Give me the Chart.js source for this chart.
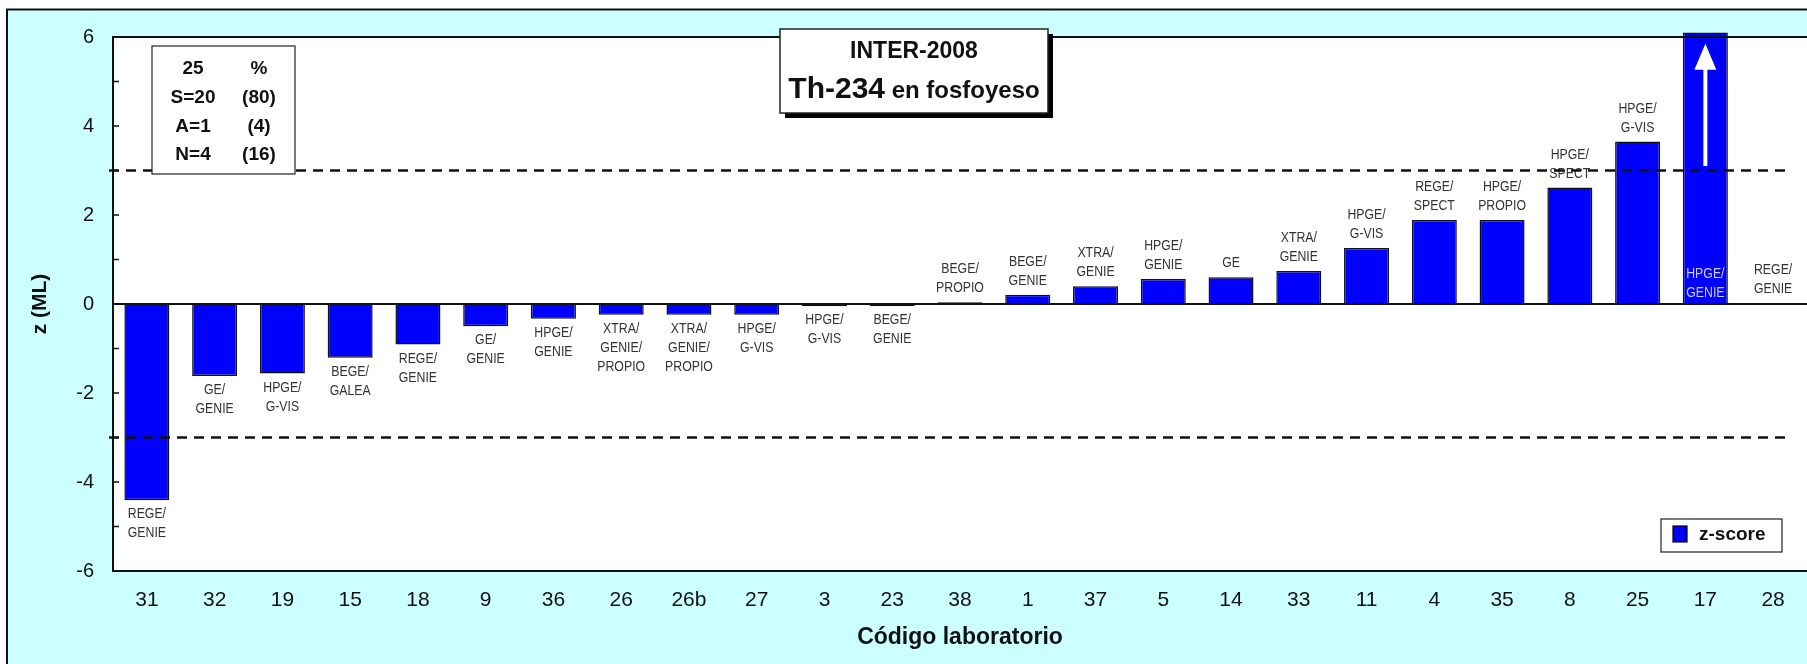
<!DOCTYPE html>
<html>
<head>
<meta charset="utf-8">
<title>INTER-2008 Th-234 en fosfoyeso</title>
<script src="https://cdn.jsdelivr.net/npm/chart.js@4.4.0/dist/chart.umd.min.js"></script>
<style>
  html, body { margin: 0; padding: 0; background: #fff; overflow: hidden; }
  #wrap { width: 1807px; height: 664px; }
</style>
</head>
<body>
<div id="wrap"><canvas id="zscore" width="1807" height="664"></canvas></div>
<script>
// lab codes, z-scores (ML) and measuring method of each lab
var labCodes = ['31', '32', '19', '15', '18', '9', '36', '26', '26b', '27', '3', '23', '38',
                '1', '37', '5', '14', '33', '11', '4', '35', '8', '25', '17', '28'];
var zScores = [-4.41, -1.62, -1.56, -1.21, -0.91, -0.50, -0.33, -0.24, -0.24, -0.24, -0.05, -0.05, 0.04,
               0.21, 0.40, 0.56, 0.60, 0.74, 1.26, 1.89, 1.89, 2.62, 3.65, 6.1, null];
var methods = ['REGE/GENIE', 'GE/GENIE', 'HPGE/G-VIS', 'BEGE/GALEA', 'REGE/GENIE', 'GE/GENIE', 'HPGE/GENIE',
               'XTRA/GENIE/PROPIO', 'XTRA/GENIE/PROPIO', 'HPGE/G-VIS', 'HPGE/G-VIS', 'BEGE/GENIE', 'BEGE/PROPIO',
               'BEGE/GENIE', 'XTRA/GENIE', 'HPGE/GENIE', 'GE', 'XTRA/GENIE', 'HPGE/G-VIS', 'REGE/SPECT',
               'HPGE/PROPIO', 'HPGE/SPECT', 'HPGE/G-VIS', 'HPGE/GENIE', 'REGE/GENIE'];
var limitLines = [3, -3];
var yMin = -6, yMax = 6;
var summaryRows = [['25', '%'], ['S=20', '(80)'], ['A=1', '(4)'], ['N=4', '(16)']];
var arrowFrom = 3.1, arrowTo = 5.85;   // off-scale arrow in bar 17

var ARIAL = "'Liberation Sans', Arial, sans-serif";

function splitMethod(s) {
  var parts = s.split('/');
  return parts.map(function (p, i) { return i < parts.length - 1 ? p + '/' : p; });
}

// Arial Narrow look-alike: squeeze Liberation Sans horizontally
function narrowText(c, txt, x, y) {
  c.save();
  c.translate(x, y);
  c.scale(0.82, 1);
  c.fillText(txt, 0, 0);
  c.restore();
}

var framePlugin = {
  id: 'frame',
  beforeDraw: function (chart) {
    var c = chart.ctx, a = chart.chartArea;
    c.save();
    c.fillStyle = '#fff';
    c.fillRect(0, 0, chart.width, chart.height);
    c.fillStyle = '#CCFFFF';
    c.fillRect(7, 9, chart.width, chart.height);
    c.strokeStyle = '#111';
    c.lineWidth = 2;
    c.beginPath();
    c.moveTo(7, chart.height + 2); c.lineTo(7, 9.5); c.lineTo(chart.width + 2, 9.5);
    c.stroke();
    c.fillStyle = '#fff';
    c.fillRect(a.left, a.top, a.right - a.left, a.bottom - a.top);
    c.restore();
  }
};

var overlayPlugin = {
  id: 'overlay',
  afterDatasetsDraw: function (chart) {
    var c = chart.ctx, a = chart.chartArea;
    var xs = chart.scales.x, ys = chart.scales.y;
    var meta = chart.getDatasetMeta(0);
    c.save();

    // zero line and plot border
    c.strokeStyle = '#111';
    c.lineWidth = 2;
    c.beginPath();
    c.moveTo(a.left, ys.getPixelForValue(0)); c.lineTo(a.right, ys.getPixelForValue(0));
    c.moveTo(a.right + 2, a.top); c.lineTo(a.left, a.top); c.lineTo(a.left, a.bottom); c.lineTo(a.right + 2, a.bottom);
    c.stroke();

    // inward tick marks on the y axis
    c.lineWidth = 1.5;
    c.beginPath();
    ys.ticks.forEach(function (t) {
      var py = ys.getPixelForValue(t.value);
      c.moveTo(a.left, py); c.lineTo(a.left + 6, py);
    });
    c.stroke();

    // method labels
    c.font = '15px ' + ARIAL;
    c.textAlign = 'center';
    c.textBaseline = 'middle';
    var lh = 19;
    zScores.forEach(function (v, i) {
      var lines = splitMethod(methods[i]);
      var px = xs.getPixelForValue(i);
      var y0 = ys.getPixelForValue(0);
      var j;
      if (v === null) {
        c.fillStyle = '#333';
        for (j = 0; j < lines.length; j++) narrowText(c, lines[j], px, y0 - 15 - (lines.length - 1 - j) * lh);
      } else if (v > yMax) {
        c.fillStyle = '#ccccff';
        for (j = 0; j < lines.length; j++) narrowText(c, lines[j], px, y0 - 11 - (lines.length - 1 - j) * lh);
      } else if (v >= 0) {
        var top = meta.data[i].y;
        c.fillStyle = '#333';
        for (j = 0; j < lines.length; j++) narrowText(c, lines[j], px, top - 14 - (lines.length - 1 - j) * lh);
      } else {
        var bot = meta.data[i].y;
        c.fillStyle = '#333';
        for (j = 0; j < lines.length; j++) narrowText(c, lines[j], px, bot + 14 + j * lh);
      }
    });

    // +-3 limit lines
    c.strokeStyle = '#111';
    c.lineWidth = 2.5;
    c.setLineDash([10, 7]);
    limitLines.forEach(function (v) {
      var py = ys.getPixelForValue(v);
      c.beginPath();
      c.moveTo(a.left - 4, py); c.lineTo(a.right - 15, py);
      c.stroke();
    });
    c.setLineDash([]);

    // white arrow on the off-scale bar
    zScores.forEach(function (v, i) {
      if (v === null || v <= yMax) return;
      var px = xs.getPixelForValue(i);
      var yb = ys.getPixelForValue(arrowFrom), yt = ys.getPixelForValue(arrowTo);
      c.fillStyle = '#fff';
      c.fillRect(px - 2, yt + 24, 4, yb - yt - 24);
      c.beginPath();
      c.moveTo(px, yt); c.lineTo(px - 11, yt + 26); c.lineTo(px + 11, yt + 26); c.closePath();
      c.fill();
    });

    // summary box
    c.fillStyle = '#fff';
    c.fillRect(152, 46, 143, 128);
    c.strokeStyle = '#222';
    c.lineWidth = 1.2;
    c.strokeRect(152, 46, 143, 128);
    c.fillStyle = '#111';
    c.font = 'bold 19px ' + ARIAL;
    summaryRows.forEach(function (r, k) {
      c.fillText(r[0], 193, 69 + k * 28.7);
      c.fillText(r[1], 259, 69 + k * 28.7);
    });

    // title box with shadow
    c.fillStyle = '#000';
    c.fillRect(785, 34, 268, 84);
    c.fillStyle = '#fff';
    c.fillRect(780, 29, 268, 84);
    c.strokeStyle = '#222';
    c.lineWidth = 1.5;
    c.strokeRect(780, 29, 268, 84);
    c.fillStyle = '#111';
    c.font = 'bold 23px ' + ARIAL;
    c.fillText('INTER-2008', 914, 52);
    c.textAlign = 'left';
    c.font = 'bold 30px ' + ARIAL;
    var w1 = c.measureText('Th-234').width;
    c.font = 'bold 24px ' + ARIAL;
    var w2 = c.measureText(' en fosfoyeso').width;
    var sx = 914 - (w1 + w2) / 2;
    c.textBaseline = 'alphabetic';
    c.font = 'bold 30px ' + ARIAL;
    c.fillText('Th-234', sx, 98);
    c.font = 'bold 24px ' + ARIAL;
    c.fillText(' en fosfoyeso', sx + w1, 98);

    // legend
    c.fillStyle = '#fff';
    c.fillRect(1661, 519, 121, 33);
    c.strokeStyle = '#222';
    c.lineWidth = 1.2;
    c.strokeRect(1661, 519, 121, 33);
    c.fillStyle = '#0000FF';
    c.fillRect(1673, 526, 14, 16);
    c.strokeStyle = '#000';
    c.strokeRect(1673, 526, 14, 16);
    c.fillStyle = '#111';
    c.textBaseline = 'middle';
    c.font = 'bold 19px ' + ARIAL;
    c.fillText('z-score', 1699, 535);

    c.restore();
  }
};

var ctx = document.getElementById('zscore').getContext('2d');
var zChart = new Chart(ctx, {
  type: 'bar',
  data: {
    labels: labCodes,
    datasets: [{
      label: 'z-score',
      data: zScores,
      backgroundColor: '#0000FF',
      borderColor: '#111',
      borderWidth: 1.5,
      barPercentage: 0.664,
      categoryPercentage: 1,
      clip: false
    }]
  },
  options: {
    responsive: false,
    animation: false,
    devicePixelRatio: 1,
    layout: { padding: { top: 37, right: 0, bottom: 0, left: 0 } },
    plugins: {
      legend: { display: false },
      tooltip: { enabled: false }
    },
    scales: {
      x: {
        grid: { display: false, drawTicks: false },
        border: { display: false },
        ticks: { color: '#111', font: { family: ARIAL, size: 21 }, padding: 17, maxRotation: 0, autoSkip: false },
        title: {
          display: true,
          text: 'Código laboratorio',
          color: '#111',
          font: { family: ARIAL, size: 23, weight: 'bold' },
          padding: { top: 0, bottom: 13 }
        },
        afterFit: function (s) { s.height = 93; }
      },
      y: {
        min: yMin,
        max: yMax,
        grid: { display: false, drawTicks: false },
        border: { display: false },
        ticks: {
          stepSize: 1,
          autoSkip: false,
          color: '#111',
          padding: 19,
          font: { family: ARIAL, size: 20 },
          callback: function (v) { return v % 2 === 0 ? v : ''; }
        },
        title: {
          display: true,
          text: 'z (ML)',
          color: '#111',
          font: { family: ARIAL, size: 21, weight: 'bold' },
          padding: { top: 28, bottom: 0 }
        },
        afterFit: function (s) { s.width = 113; }
      }
    }
  },
  plugins: [framePlugin, overlayPlugin]
});
</script>
</body>
</html>
